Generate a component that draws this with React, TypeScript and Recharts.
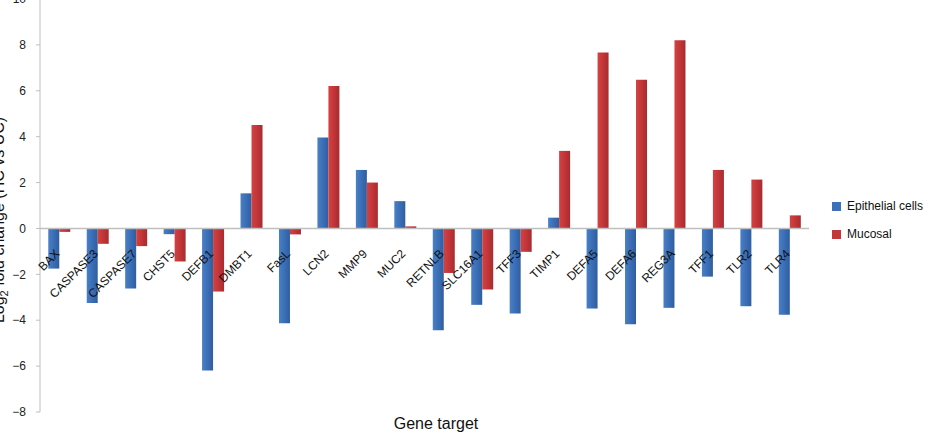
import { BarChart, Bar, XAxis, YAxis, ReferenceLine, LabelList } from 'recharts';

const FONT = '"Liberation Sans", Arial, Helvetica, sans-serif';

const GENES = [
  'BAX', 'CASPASE3', 'CASPASE7', 'CHST5', 'DEFB1', 'DMBT1', 'FasL', 'LCN2', 'MMP9', 'MUC2',
  'RETNLB', 'SLC16A1', 'TFF3', 'TIMP1', 'DEFA5', 'DEFA6', 'REG3A', 'TFF1', 'TLR2', 'TLR4',
];
const EPITHELIAL = [
  -1.75, -3.25, -2.62, -0.25, -6.19, 1.53, -4.13, 3.96, 2.55, 1.19,
  -4.44, -3.33, -3.71, 0.47, -3.49, -4.18, -3.46, -2.1, -3.39, -3.76,
];
const MUCOSAL = [
  -0.15, -0.67, -0.77, -1.44, -2.75, 4.51, -0.26, 6.21, 2.0, 0.09,
  -1.94, -2.66, -1.02, 3.38, 7.67, 6.48, 8.2, 2.55, 2.13, 0.57,
];
const Y_TICKS = [-8, -6, -4, -2, 0, 2, 4, 6, 8, 10];

const LEGEND = [
  { name: 'Epithelial cells', color: '#3c70b8' },
  { name: 'Mucosal', color: '#c3373a' },
];

const data = GENES.map((gene, i) => ({ gene, epithelial: EPITHELIAL[i], mucosal: MUCOSAL[i] }));

const fmt = (v: number) => (v < 0 ? `\u2212${Math.abs(v)}` : `${v}`);

// gene name, rotated, hanging under the zero line at the category centre
function GeneLabel(props: any) {
  const vb = props.viewBox ?? props;
  const { x, y, width, height } = vb;
  const top = Math.min(y, y + height);
  const bottom = Math.max(y, y + height);
  const zero = MUCOSAL[props.index] < 0 ? top : bottom;
  const ax = x + 1;
  const ay = zero + 26;
  return (
    <text
      x={ax}
      y={ay}
      transform={`rotate(-45 ${ax} ${ay})`}
      textAnchor="end"
      fontSize={12}
      fontFamily={FONT}
      fill="#111"
    >
      {props.value}
    </text>
  );
}

function LegendBox() {
  return (
    <div style={{ position: 'absolute', left: 832, top: 202, fontFamily: FONT, fontSize: 12, color: '#111' }}>
      {LEGEND.map((l) => (
        <div key={l.name} style={{ display: 'flex', alignItems: 'center', height: 9, marginBottom: 19 }}>
          <span style={{ width: 9, height: 9, background: l.color, display: 'inline-block', marginRight: 6 }} />
          <span style={{ lineHeight: '9px', whiteSpace: 'nowrap' }}>{l.name}</span>
        </div>
      ))}
    </div>
  );
}

export default function App() {
  return (
    <div style={{ position: 'absolute', left: 0, top: 0, width: 928, height: 434, background: '#fff', overflow: 'hidden' }}>
      <div style={{ position: 'absolute', left: 0, top: -1 }}>
        <BarChart
          width={928}
          height={435}
          data={data}
          margin={{ top: 0, right: 119, left: 0, bottom: 0 }}
          barCategoryGap="21.5%"
          barGap={0}
        >
          <defs>
            <linearGradient id="gBlue" x1="0" y1="0" x2="1" y2="0">
              <stop offset="0%" stopColor="#4a80c6" />
              <stop offset="45%" stopColor="#3c70b8" />
              <stop offset="100%" stopColor="#2f5e9f" />
            </linearGradient>
            <linearGradient id="gRed" x1="0" y1="0" x2="1" y2="0">
              <stop offset="0%" stopColor="#d4423f" />
              <stop offset="45%" stopColor="#c3373a" />
              <stop offset="100%" stopColor="#a82b2e" />
            </linearGradient>
          </defs>
          <XAxis
            dataKey="gene"
            height={22}
            tick={false}
            tickLine={false}
            axisLine={false}
            label={{
              content: () => (
                <text x={436} y={430} textAnchor="middle" fontSize={16} fontFamily={FONT} fill="#111">
                  Gene target
                </text>
              ),
            }}
          />
          <YAxis
            width={40}
            domain={[-8, 10]}
            ticks={Y_TICKS}
            interval={0}
            tickFormatter={fmt}
            tick={{ fontSize: 12, fill: '#222', fontFamily: FONT }}
            tickSize={4}
            tickMargin={10}
            axisLine={{ stroke: '#bfbfbf' }}
            tickLine={{ stroke: '#bfbfbf' }}
            label={{
              content: () => (
                <text
                  x={4}
                  y={221}
                  transform="rotate(-90 4 221)"
                  textAnchor="middle"
                  fontSize={16}
                  fontFamily={FONT}
                  fill="#111"
                >
                  Log
                  <tspan fontSize={11} dy={4}>2</tspan>
                  <tspan dy={-4}> fold change (HC vs UC)</tspan>
                </text>
              ),
            }}
          />
          <ReferenceLine y={0} stroke="#bfbfbf" strokeWidth={1.5} />
          <Bar dataKey="epithelial" name="Epithelial cells" fill="url(#gBlue)" isAnimationActive={false} />
          <Bar dataKey="mucosal" name="Mucosal" fill="url(#gRed)" isAnimationActive={false}>
            <LabelList dataKey="gene" content={<GeneLabel />} />
          </Bar>
        </BarChart>
      </div>
      <LegendBox />
    </div>
  );
}
